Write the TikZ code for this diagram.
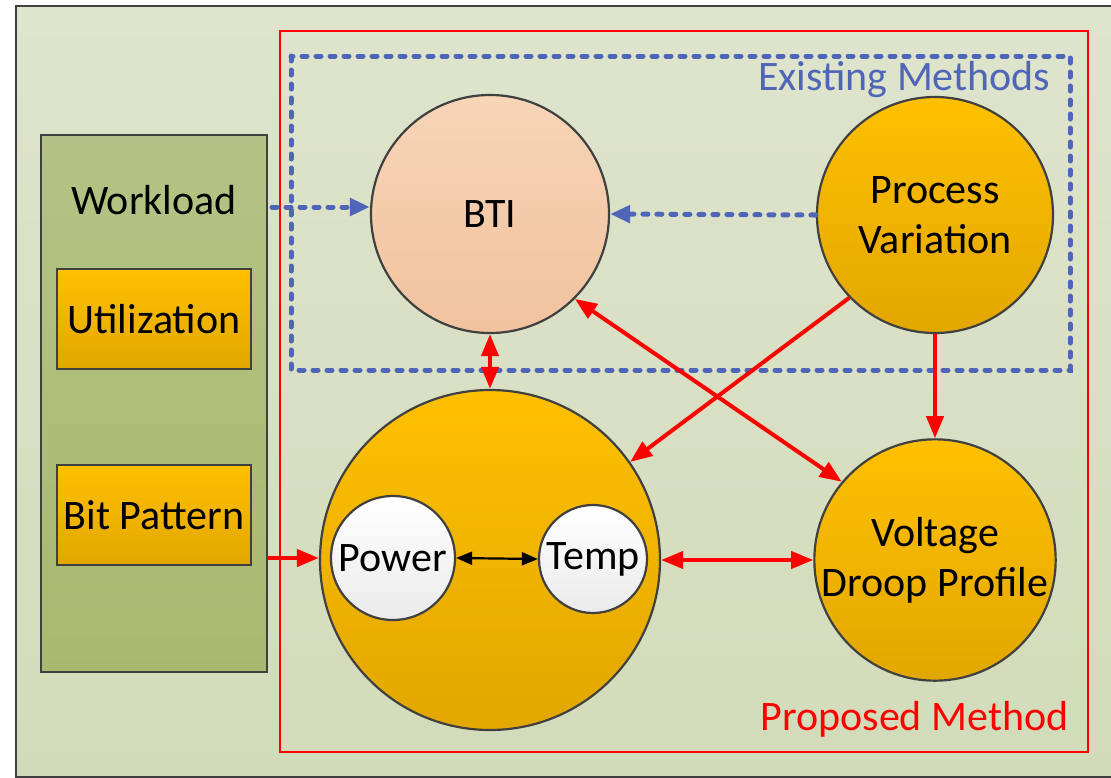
\documentclass[tikz,border=0pt]{standalone}
\usepackage{fontspec}
\setmainfont{Carlito}
\usetikzlibrary{arrows.meta}
\definecolor{bgtop}{HTML}{DFE4CD}
\definecolor{bgbot}{HTML}{D2DBB9}
\definecolor{wltop}{HTML}{B4C385}
\definecolor{wlbot}{HTML}{A8B96F}
\definecolor{ortop}{HTML}{FFC000}
\definecolor{orbot}{HTML}{E2A700}
\definecolor{btitop}{HTML}{F7D5B6}
\definecolor{btibot}{HTML}{F1C29E}
\definecolor{frame}{HTML}{404040}
\definecolor{exblue}{HTML}{4F66B8}
\definecolor{pred}{HTML}{FF0000}
\tikzset{
  x=1pt, y=-1pt,
  big/.style={font=\fontsize{42}{50}\selectfont},
  orangebox/.style={draw=frame, line width=2.4pt, top color=ortop, bottom color=orbot, inner sep=0pt, big},
  bubble/.style={circle, draw=frame, line width=2.2pt, inner sep=0pt, align=center, big},
  orangeball/.style={bubble, top color=ortop, bottom color=orbot},
  whiteball/.style={bubble, top color=white, bottom color=black!8},
  redlink/.style={draw=pred, line width=4pt, -{Triangle[length=22pt,width=17pt]}},
  redboth/.style={redlink, {Triangle[length=22pt,width=17pt]}-{Triangle[length=22pt,width=17pt]}},
  bluedots/.style={draw=exblue, line width=5pt, line cap=round, dash pattern=on 5pt off 9pt},
  bluelink/.style={bluedots, -{Triangle[length=20pt,width=17pt,line cap=butt]}},
}
\begin{document}
\begin{tikzpicture}
\useasboundingbox (0,0) rectangle (1111,777);
% page background and outer frame
\fill[white] (0,0) rectangle (1111,777);
\begin{scope}
\clip (0,0) rectangle (1111,777);
\draw[draw=frame, line width=2.5pt, top color=bgtop, bottom color=bgbot] (16,6) rectangle (1130,777);
\end{scope}

% workload column
\draw[draw=frame, line width=2.6pt, top color=wltop, bottom color=wlbot] (41,135) rectangle (267,672);
\node[big] (wl) at (154,200) {Workload};
\node[orangebox, minimum width=194pt, minimum height=100pt] (util) at (154,319) {Utilization};
\node[orangebox, minimum width=194pt, minimum height=100pt] (bit) at (154,515) {Bit Pattern};
\coordinate (wlout) at (272,207);
\coordinate (bitout) at (267,558);

% proposed-method frame
\draw[pred, line width=2.4pt] (280,31) rectangle (1088,752);
\node[pred, big, anchor=east] (prop) at (1072,719) {Proposed Method};

% existing-methods frame
\draw[bluedots] (291,56) rectangle (1070,370);
\node[exblue, big, anchor=east] (exist) at (1054,80) {Existing Methods};

% model bubbles
\node[bubble, top color=btitop, bottom color=btibot, minimum size=238pt] (bti) at (490,214) {};
\node[big] at (490,214) {BTI};
\node[orangeball, minimum size=236pt] (pv) at (935,215) {Process\\Variation};
\node[orangeball, minimum size=340pt] (pt) at (490,560) {};
\node[orangeball, minimum size=236pt] (vd) at (935,560) {Voltage\\Droop Profile};
\node[whiteball, minimum size=124pt] (pow) at (393,558) {Power};
\node[whiteball, minimum size=108pt] (tmp) at (593,559) {Temp};

% links
\draw[bluelink] (wlout) -- (bti.west |- wlout);
\draw[bluelink] (pv.west) -- (bti.east);
\draw[redlink] (bitout) -- (pt.west |- bitout);
\draw[redboth] (bti.south) -- (pt.north);
\draw[redlink] (pv.south) -- (vd.north);
\draw[redlink] (pv.-136) -- (pt.35);
\draw[redboth] (bti.-45) -- (vd.140);
\draw[redboth] (pt.east) -- (vd.west);
\draw[draw=black, line width=2.2pt, {Triangle[length=16pt,width=13pt]}-{Triangle[length=16pt,width=13pt]}] (pow.east) -- (tmp.west);
\end{tikzpicture}
\end{document}
